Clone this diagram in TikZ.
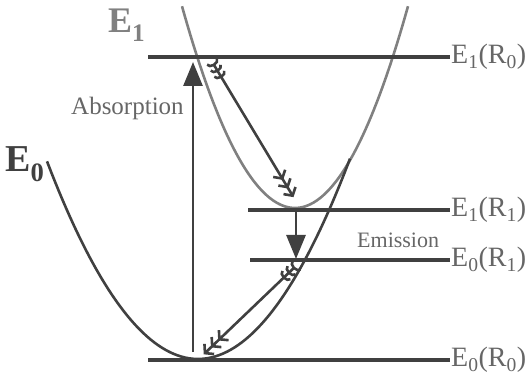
\documentclass[tikz,border=0pt]{standalone}
\usepackage{fontspec}
\setmainfont{Liberation Serif}
\usetikzlibrary{arrows.meta}

\definecolor{darkline}{gray}{0.25}
\definecolor{lightline}{gray}{0.50}
\definecolor{labelgray}{gray}{0.40}

\tikzset{
  level/.style={darkline, line width=3.4pt},
  curvedark/.style={darkline, line width=2.6pt},
  curvelight/.style={lightline, line width=2.6pt},
  vertarrow/.style={darkline, line width=2.8pt, -{Triangle[length=24pt,width=19pt]}},
  relaxarrow/.style={darkline, line width=2.6pt,
    {[length=5pt,width=14pt,sep=2pt]Arc Barb[reversed]Arc Barb[reversed]Arc Barb[reversed]}-{[length=6pt,width=14pt,sep=1pt]Straight Barb[]Straight Barb[]Straight Barb[]}},
  levellabel/.style={labelgray, anchor=west, inner sep=1pt, font=\fontsize{28}{32}\selectfont},
  textlabel/.style={labelgray, inner sep=0pt}
}

\begin{document}
\begin{tikzpicture}[x=1pt,y=-1pt]
\useasboundingbox (0,0) rectangle (530,379);

% potential curves
\draw[curvelight] plot[domain=182:408,samples=80] (\x,{208-1.58*((\x-295)/10)^2});
\draw[curvedark] plot[domain=47:350,samples=80] (\x,{359-0.867*((\x-198)/10)^2});

\node[anchor=base west, lightline, inner sep=0pt, font=\fontsize{36}{40}\bfseries] (lblE1) at (108,33) {E\textsubscript{1}};
\node[anchor=base west, darkline, inner sep=0pt, font=\fontsize{38}{42}\bfseries] (lblE0) at (5,172) {E\textsubscript{0}};

% levels
\coordinate (a10) at (148,57);
\coordinate (a11) at (248,210);
\coordinate (a01) at (250,260);
\coordinate (a00) at (148,360);
\node[levellabel] (E1R0) at (450,57) {E\textsubscript{1}(R\textsubscript{0})};
\node[levellabel] (E1R1) at (450,210) {E\textsubscript{1}(R\textsubscript{1})};
\node[levellabel] (E0R1) at (450,260) {E\textsubscript{0}(R\textsubscript{1})};
\node[levellabel] (E0R0) at (450,360) {E\textsubscript{0}(R\textsubscript{0})};
\draw[level] (a10) -- (E1R0.west);
\draw[level] (a11) -- (E1R1.west);
\draw[level] (a01) -- (E0R1.west);
\draw[level] (a00) -- (E0R0.west);

% transitions
\coordinate (absA) at (193,352);
\coordinate (absB) at (193,62);
\draw[vertarrow] (absA) -- (absB);
\node[textlabel, anchor=base west, font=\fontsize{25}{29}\selectfont] (absorb) at (71,115) {Absorption};

\coordinate (emA) at (296,212);
\coordinate (emB) at (296,259);
\draw[vertarrow] (emA) -- (emB);
\node[textlabel, anchor=base west, font=\fontsize{22}{26}\selectfont] (emit) at (357,248) {Emission};

% relaxation
\coordinate (rxA) at (211,60);
\coordinate (rxB) at (294,198);
\draw[relaxarrow] (rxA) -- (rxB);
\coordinate (ryA) at (298,264);
\coordinate (ryB) at (203,355);
\draw[relaxarrow] (ryA) -- (ryB);

\end{tikzpicture}
\end{document}
